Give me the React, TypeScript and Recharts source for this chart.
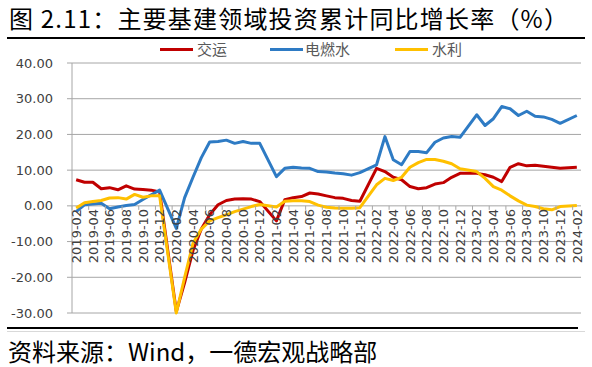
import { LineChart, Line, XAxis, YAxis, CartesianGrid } from "recharts";

// monthly labels, Jan has no release (Jan-Feb combined)
const months = [
  "2019-02", "2019-03", "2019-04", "2019-05", "2019-06", "2019-07", "2019-08", "2019-09", "2019-10", "2019-11", "2019-12",
  "2020-01", "2020-02", "2020-03", "2020-04", "2020-05", "2020-06", "2020-07", "2020-08", "2020-09", "2020-10", "2020-11", "2020-12",
  "2021-01", "2021-02", "2021-03", "2021-04", "2021-05", "2021-06", "2021-07", "2021-08", "2021-09", "2021-10", "2021-11", "2021-12",
  "2022-01", "2022-02", "2022-03", "2022-04", "2022-05", "2022-06", "2022-07", "2022-08", "2022-09", "2022-10", "2022-11", "2022-12",
  "2023-01", "2023-02", "2023-03", "2023-04", "2023-05", "2023-06", "2023-07", "2023-08", "2023-09", "2023-10", "2023-11", "2023-12",
  "2024-01", "2024-02",
];

const jiaoyun = [
  7.3, 6.6, 6.6, 4.8, 5.1, 4.5, 5.6, 4.7, 4.6, 4.4, 3.9,
  null, -29.6, -21.5, -12.5, -6.5, -2.5, 0.3, 1.5, 1.9, 2.0, 1.9, 1.2,
  null, -4.2, 1.7, 2.3, 2.6, 3.6, 3.3, 2.8, 2.3, 2.1, 1.5, 1.3,
  null, 10.5, 9.6, 8.0, 7.3, 5.4, 4.8, 5.1, 6.1, 6.5, 8.0, 9.1,
  null, 9.1, 8.7, 8.0, 6.8, 10.8, 11.8, 11.2, 11.4, 11.1, 10.8, 10.5,
  null, 10.8,
];

const dianranshui = [
  -1.6, 0.3, 0.5, 0.7, -0.8, -0.3, 0.1, 0.4, 1.8, 3.1, 4.4,
  null, -6.3, 2.3, 8.0, 13.5, 17.9, 18.0, 18.4, 17.5, 18.0, 17.5, 17.5,
  null, 8.2, 10.5, 10.8, 10.6, 10.5, 9.6, 9.5, 9.2, 9.0, 8.6, 9.3,
  null, 11.5, 19.4, 12.9, 11.5, 15.2, 15.2, 14.9, 17.8, 19.0, 19.4, 19.2,
  null, 25.5, 22.5, 24.4, 27.8, 27.2, 25.3, 26.5, 25.1, 24.9, 24.2, 23.1,
  null, 25.3,
];

const shuili = [
  -0.6, 0.9, 1.2, 1.5, 2.2, 2.3, 1.9, 3.2, 2.4, 2.8, 2.8,
  null, -30.0, -20.0, -10.5, -6.5, -4.2, -3.3, -2.5, -1.6, -0.9, -0.2, 0.4,
  null, -0.3, 1.3, 1.4, 1.4, 1.2, 0.2, -0.4, -0.6, -0.7, -0.7, -0.5,
  null, 5.9, 7.7, 7.1, 8.0, 10.8, 12.1, 13.0, 13.0, 12.5, 11.8, 10.4,
  null, 9.6, 7.7, 5.4, 4.4, 2.8, 1.4, 0.2, -0.2, -0.8, -1.1, -0.2,
  null, 0.1,
];

const seriesNames = ["交运", "电燃水", "水利"];
const seriesKeys = ["jiaoyun", "dianranshui", "shuili"];
const seriesColors = ["#C00000", "#2E7BC4", "#FFC000"];
const yTicks = [-30, -20, -10, 0, 10, 20, 30, 40];

const data = months.map((m, i) => ({
  month: m,
  jiaoyun: jiaoyun[i],
  dianranshui: dianranshui[i],
  shuili: shuili[i],
}));

// plot box
const TOP = 63;
const BOTTOM = 313;
const LEFT = 72;
const RIGHT = 581;
const X_AXIS_H = 30;
const Y_MIN = -30;
const Y_MAX = 40;
const zeroY = TOP + ((BOTTOM - TOP) * Y_MAX) / (Y_MAX - Y_MIN);
const half = (RIGHT - LEFT) / months.length / 2;

const cjk = "'Noto Sans CJK SC', sans-serif";
const grid = "#a6a6a6";

// labels sit under the zero line, like the excel axis crossing at 0
const XTick = ({ x, payload }: any) => (
  <g transform={`translate(${x},${zeroY})`}>
    <line x1={-half} x2={-half} y1={0} y2={4} stroke={grid} />
    <text
      transform="rotate(-90)"
      x={-3}
      y={0}
      dy="0.36em"
      textAnchor="end"
      fill="#404040"
      fontSize={13}
      fontFamily="DejaVu Sans"
    >
      {payload.value}
    </text>
  </g>
);

const legendPos = [
  { line: 160, text: 197 },
  { line: 270, text: 305 },
  { line: 395, text: 432 },
];

export default function App() {
  return (
    <div
      style={{
        position: "absolute",
        left: 0,
        top: 0,
        width: 592,
        height: 367,
        background: "#fff",
        overflow: "hidden",
      }}
    >
      <div
        style={{
          position: "absolute",
          left: 9,
          top: 6,
          fontFamily: cjk,
          fontSize: 24,
          lineHeight: "24px",
          letterSpacing: 1.2,
          color: "#000",
          whiteSpace: "nowrap",
        }}
      >
        图 2.11：主要基建领域投资累计同比增长率（%）
      </div>
      <div style={{ position: "absolute", left: 7, top: 37, width: 578, height: 2, background: "#000" }} />

      {seriesNames.map((name, i) => (
        <div key={name}>
          <div
            style={{
              position: "absolute",
              left: legendPos[i].line,
              top: 47.5,
              width: 33,
              height: 3,
              background: seriesColors[i],
            }}
          />
          <div
            style={{
              position: "absolute",
              left: legendPos[i].text,
              top: 40,
              fontFamily: cjk,
              fontSize: 15,
              lineHeight: "18px",
              color: "#595959",
              whiteSpace: "nowrap",
            }}
          >
            {name}
          </div>
        </div>
      ))}

      <div style={{ position: "absolute", left: 0, top: 0 }}>
        <LineChart
          width={592}
          height={367}
          data={data}
          margin={{ top: TOP, right: 592 - RIGHT, bottom: 367 - BOTTOM - X_AXIS_H, left: 0 }}
        >
          <CartesianGrid vertical={false} stroke={grid} />
          <XAxis
            dataKey="month"
            interval={1}
            axisLine={false}
            tickLine={false}
            height={X_AXIS_H}
            padding={{ left: half, right: half }}
            tick={<XTick />}
          />
          <YAxis
            width={LEFT}
            domain={[Y_MIN, Y_MAX]}
            ticks={yTicks}
            interval={0}
            tickFormatter={(v: number) => v.toFixed(2)}
            axisLine={{ stroke: grid }}
            tickLine={{ stroke: grid }}
            tickSize={5}
            tickMargin={14}
            tick={{ fill: "#404040", fontSize: 13, fontFamily: "DejaVu Sans" }}
          />
          {seriesKeys.map((k, i) => (
            <Line
              key={k}
              type="linear"
              dataKey={k}
              name={seriesNames[i]}
              stroke={seriesColors[i]}
              strokeWidth={3}
              strokeLinejoin="round"
              dot={false}
              activeDot={false}
              connectNulls
              isAnimationActive={false}
            />
          ))}
        </LineChart>
      </div>

      <div style={{ position: "absolute", left: 7, top: 326.5, width: 571, height: 2.5, background: "#000" }} />
      <div style={{ position: "absolute", left: 7, top: 331, width: 578, height: 1, background: "#d9d9d9" }} />
      <div
        style={{
          position: "absolute",
          left: 8,
          top: 339,
          fontFamily: cjk,
          fontSize: 24,
          lineHeight: "24px",
          color: "#000",
          whiteSpace: "nowrap",
        }}
      >
        资料来源：Wind，一德宏观战略部
      </div>
    </div>
  );
}
